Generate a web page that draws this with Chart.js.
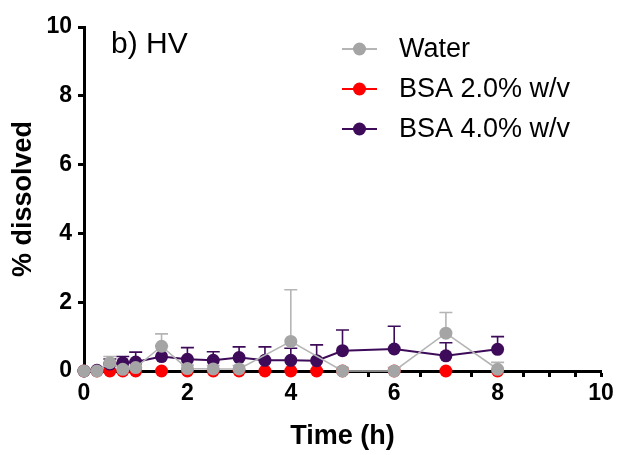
<!DOCTYPE html>
<html><head><meta charset="utf-8">
<script src="https://cdn.jsdelivr.net/npm/chart.js@4.4.1/dist/chart.umd.min.js"></script>
<style>html,body{margin:0;padding:0;background:#fff;}#wrap{width:621px;height:455px;}</style>
</head><body><div id="wrap"><canvas id="c" width="621" height="455"></canvas></div>
<script>
const panelLabel = 'b) HV';
const xTitle = 'Time (h)';
const yTitle = '% dissolved';
const seriesNames = ['Water', 'BSA 2.0% w/v', 'BSA 4.0% w/v'];

const waterTime   = [0, 0.25, 0.5, 0.75, 1, 1.5, 2, 2.5, 3, 4, 5, 6, 7, 8];
const waterValues = [0, 0, 0.24, 0.05, 0.1, 0.72, 0.07, 0.06, 0.06, 0.86, 0.0, 0.0, 1.1, 0.05];
const waterErr    = [0, 0, 0.18, 0.1, 0.15, 0.36, 0.1, 0.1, 0.1, 1.5, 0.1, 0.1, 0.6, 0.2];

const bsa2Time   = [0, 0.25, 0.5, 0.75, 1, 1.5, 2, 2.5, 3, 3.5, 4, 4.5, 5, 6, 7, 8];
const bsa2Values = [0, 0, 0, 0, 0, 0, 0, 0, 0, 0, 0, 0, 0, 0, 0, 0];

const bsa4Time   = [0, 0.25, 0.5, 0.75, 1, 1.5, 2, 2.5, 3, 3.5, 4, 4.5, 5, 6, 7, 8];
const bsa4Values = [0, 0.02, 0.2, 0.24, 0.26, 0.42, 0.34, 0.31, 0.39, 0.31, 0.31, 0.3, 0.59, 0.64, 0.44, 0.63];
const bsa4Err    = [0, 0, 0.15, 0.18, 0.29, 0.3, 0.34, 0.25, 0.31, 0.39, 0.35, 0.46, 0.6, 0.66, 0.38, 0.37];

const xTicksMajor = [0, 2, 4, 6, 8, 10];
const yTickStep = 2;

const FONT = "'Liberation Sans', Arial, sans-serif";
const GRAY_LINE = '#b5b5b5', GRAY_PT = '#a5a5a5', RED = '#ff0000', PURPLE = '#3d0b5a';

const toXY = (xs, ys) => xs.map((t, i) => ({x: t, y: ys[i]}));

const errorBarPlugin = {
  id: 'errorBars',
  beforeDatasetsDraw(chart) {
    const {ctx, scales: {x, y}} = chart;
    ctx.save();
    for (let d = chart.data.datasets.length - 1; d >= 0; d--) {
      const ds = chart.data.datasets[d];
      if (!ds.errorBars) continue;
      ctx.strokeStyle = ds.errorColor;
      ctx.lineWidth = 1.6;
      ds.data.forEach((p, i) => {
        const e = ds.errorBars[i];
        if (!e) return;
        const px = x.getPixelForValue(p.x);
        const py0 = y.getPixelForValue(p.y);
        const py1 = y.getPixelForValue(p.y + e);
        ctx.beginPath();
        ctx.moveTo(px, py0); ctx.lineTo(px, py1);
        ctx.moveTo(px - 6.5, py1); ctx.lineTo(px + 6.5, py1);
        ctx.stroke();
      });
    }
    ctx.restore();
  }
};

const annotPlugin = {
  id: 'annot',
  afterDraw(chart) {
    const {ctx} = chart;
    ctx.save();
    ctx.fillStyle = '#000';
    ctx.font = `30px ${FONT}`;
    ctx.textBaseline = 'alphabetic';
    ctx.textAlign = 'left';
    ctx.fillText(panelLabel, 111, 53);
    // legend
    ctx.font = `27px ${FONT}`;
    ctx.textBaseline = 'middle';
    chart.data.datasets.forEach((ds, i) => {
      const cy = 49 + 40 * i;
      ctx.strokeStyle = ds.legendLine;
      ctx.lineWidth = 2;
      ctx.beginPath(); ctx.moveTo(342, cy); ctx.lineTo(377, cy); ctx.stroke();
      ctx.fillStyle = ds.pointBackgroundColor;
      ctx.beginPath(); ctx.arc(359.5, cy, 6.5, 0, Math.PI * 2); ctx.fill();
      ctx.fillStyle = '#000';
      ctx.fillText(ds.label, 399, cy + 1);
    });
    ctx.restore();
  }
};

new Chart(document.getElementById('c'), {
  type: 'line',
  data: {
    datasets: [
      {label: seriesNames[0], data: toXY(waterTime, waterValues), borderColor: GRAY_LINE, borderWidth: 1.6,
       pointBackgroundColor: GRAY_PT, pointBorderColor: GRAY_PT, pointRadius: 6.5, pointBorderWidth: 0,
       order: 0, clip: false, errorBars: waterErr, errorColor: GRAY_LINE, legendLine: GRAY_LINE},
      {label: seriesNames[1], data: toXY(bsa2Time, bsa2Values), borderColor: RED, borderWidth: 2, showLine: false,
       pointBackgroundColor: RED, pointBorderColor: RED, pointRadius: 6.5, pointBorderWidth: 0,
       order: 2, clip: false, legendLine: RED},
      {label: seriesNames[2], data: toXY(bsa4Time, bsa4Values), borderColor: PURPLE, borderWidth: 2,
       pointBackgroundColor: PURPLE, pointBorderColor: PURPLE, pointRadius: 6.5, pointBorderWidth: 0,
       order: 1, clip: false, errorBars: bsa4Err, errorColor: PURPLE, legendLine: PURPLE}
    ]
  },
  options: {
    responsive: false, animation: false, tension: 0,
    layout: {padding: {top: 27, right: 20, left: 0, bottom: 0}},
    plugins: {legend: {display: false}, tooltip: {enabled: false}},
    scales: {
      x: {
        type: 'linear', min: 0, max: 10,
        ticks: {stepSize: 0.5, autoSkip: false, maxRotation: 0, color: '#000', padding: 3,
                font: {family: FONT, size: 23, weight: 'bold'},
                callback: v => (xTicksMajor.includes(v) ? String(v) : '')},
        grid: {drawOnChartArea: false, drawTicks: true, tickLength: 6, tickWidth: 3, tickColor: '#000'},
        border: {color: '#000', width: 3},
        title: {display: true, text: xTitle, color: '#000', font: {family: FONT, size: 27, weight: 'bold'},
                padding: {top: 0, bottom: 2}},
        afterFit(s) { s.height = 84; s.paddingLeft = 0; s.paddingRight = 0; }
      },
      y: {
        type: 'linear', min: 0, max: 10,
        ticks: {stepSize: yTickStep, color: '#000', padding: 6, font: {family: FONT, size: 23, weight: 'bold'}},
        grid: {drawOnChartArea: false, drawTicks: true, tickLength: 6, tickWidth: 3, tickColor: '#000'},
        border: {color: '#000', width: 3},
        title: {display: true, text: yTitle, color: '#000', font: {family: FONT, size: 27, weight: 'bold'},
                padding: {top: 7, bottom: 0}},
        afterFit(s) { s.width = 84; s.paddingTop = 0; s.paddingBottom = 0; }
      }
    }
  },
  plugins: [errorBarPlugin, annotPlugin]
});
</script></body></html>
